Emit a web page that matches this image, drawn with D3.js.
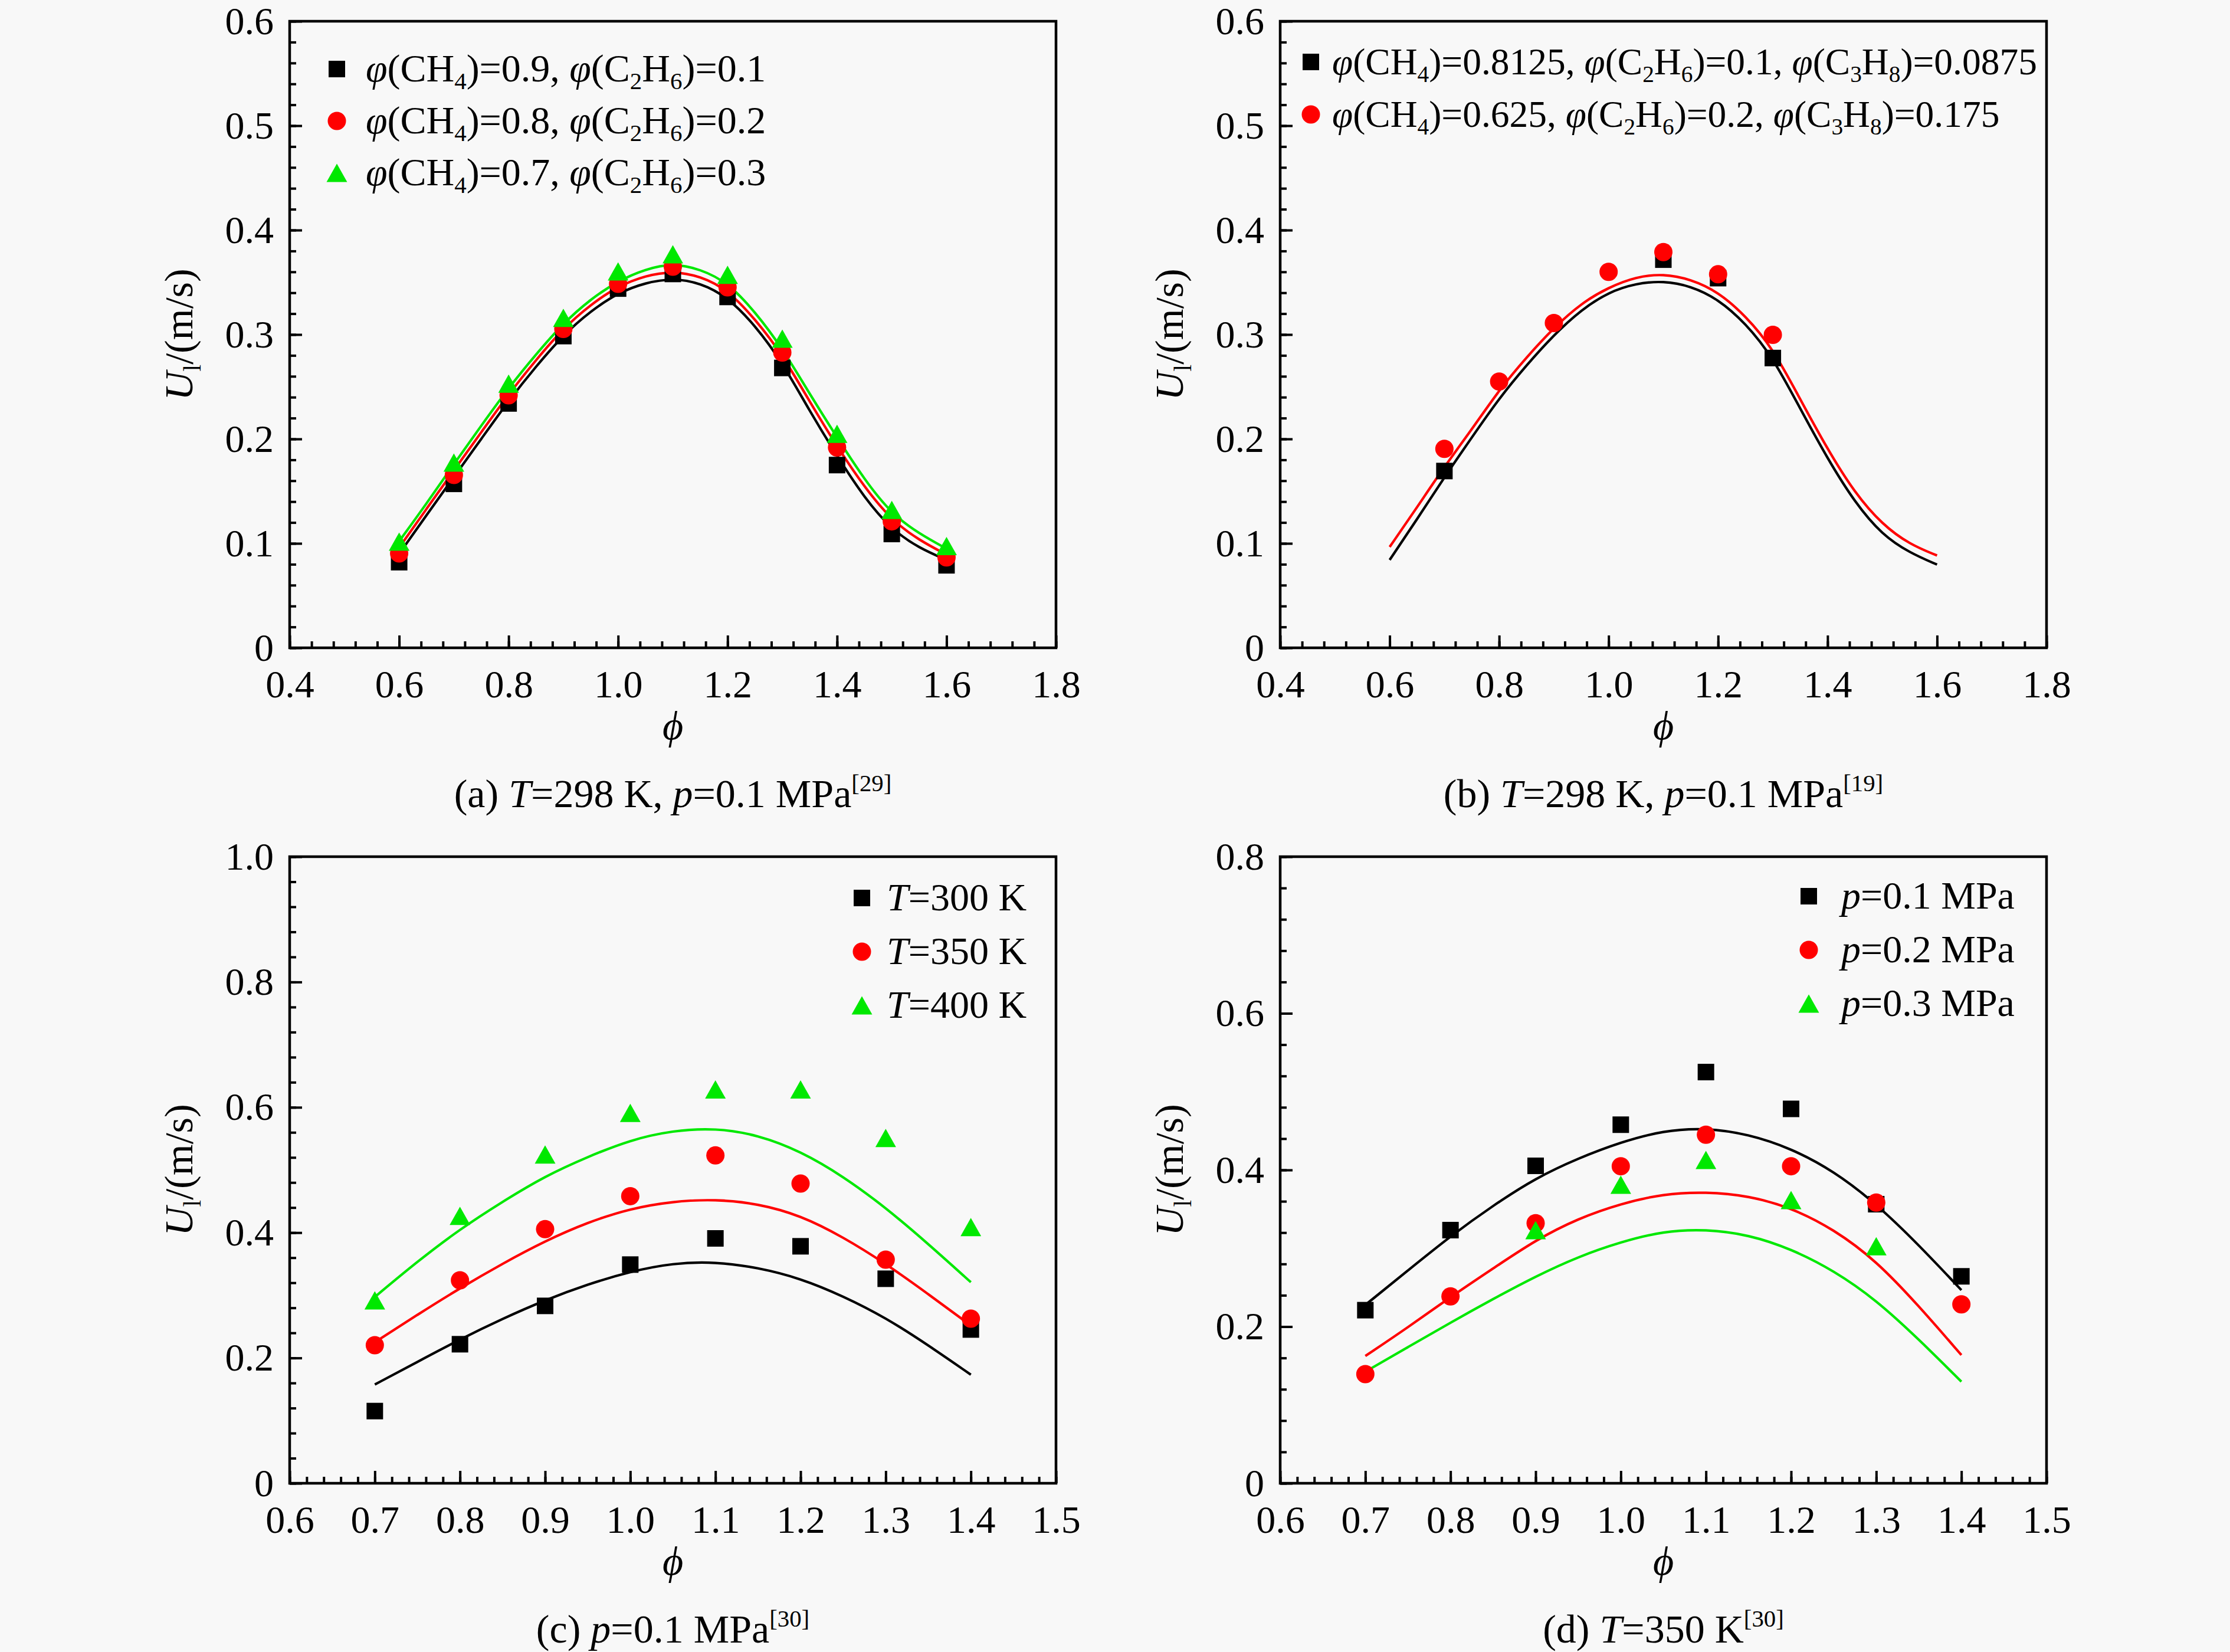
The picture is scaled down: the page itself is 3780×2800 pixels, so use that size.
<!DOCTYPE html>
<html>
<head>
<meta charset="utf-8">
<script src="https://cdn.jsdelivr.net/npm/d3@7"></script>
<style>
  html, body { margin: 0; padding: 0; background: #f8f8f8; }
  svg { display: block; }
  text { white-space: pre; }
</style>
</head>
<body>
<script>
// ---------------- DATA ----------------
// Panel (a): T=298 K, p=0.1 MPa
const aPhi = [0.6, 0.7, 0.8, 0.9, 1.0, 1.1, 1.2, 1.3, 1.4, 1.5, 1.6];
const aBlack = [0.082, 0.157, 0.234, 0.2985, 0.344, 0.358, 0.336, 0.268, 0.175, 0.109, 0.079];
const aRed   = [0.0904, 0.1655, 0.2418, 0.3053, 0.3486, 0.365, 0.3452, 0.2828, 0.1918, 0.1211, 0.0866];
const aGreen = [0.1017, 0.1774, 0.253, 0.316, 0.3605, 0.3768, 0.3572, 0.296, 0.205, 0.132, 0.0975];
const abFitPhi = [0.6, 0.65, 0.7, 0.75, 0.8, 0.85, 0.9, 0.95, 1.0, 1.05, 1.1, 1.15, 1.2, 1.25, 1.3, 1.35, 1.4, 1.45, 1.5, 1.55, 1.6];
const aBlackFit = [0.09, 0.127, 0.1636, 0.2, 0.2367, 0.2695, 0.2997, 0.3226, 0.340, 0.3497, 0.354, 0.3495, 0.336, 0.309, 0.2735, 0.2266, 0.1836, 0.1435, 0.113, 0.0955, 0.0842];
const aRedFit   = [0.096, 0.133, 0.170, 0.2064, 0.243, 0.2757, 0.306, 0.3288, 0.3463, 0.3565, 0.3608, 0.356, 0.343, 0.315, 0.281, 0.2356, 0.1927, 0.1537, 0.122, 0.103, 0.0893];
const aGreenFit = [0.102, 0.138, 0.176, 0.2127, 0.249, 0.281, 0.311, 0.334, 0.3514, 0.3627, 0.3683, 0.3627, 0.350, 0.322, 0.287, 0.243, 0.2014, 0.161, 0.128, 0.1093, 0.0949];
const aLegend = ["*φ*(CH_4_)=0.9, *φ*(C_2_H_6_)=0.1", "*φ*(CH_4_)=0.8, *φ*(C_2_H_6_)=0.2", "*φ*(CH_4_)=0.7, *φ*(C_2_H_6_)=0.3"];
const aCaption = "(a) *T*=298 K, *p*=0.1 MPa^[29]^";

// Panel (b): T=298 K, p=0.1 MPa
const bBlackPhi = [0.7, 1.1, 1.2, 1.3];
const bBlack = [0.1693, 0.3717, 0.354, 0.2775];
const bRedPhi = [0.7, 0.8, 0.9, 1.0, 1.1, 1.2, 1.3];
const bRed = [0.1905, 0.255, 0.311, 0.360, 0.379, 0.3577, 0.2997];
const bBlackFit = [0.0842, 0.123, 0.1635, 0.2014, 0.239, 0.2707, 0.2997, 0.3237, 0.3407, 0.349, 0.3514, 0.3465, 0.334, 0.311, 0.2783, 0.229, 0.181, 0.139, 0.108, 0.091, 0.0797];
const bRedFit   = [0.0966, 0.1345, 0.1736, 0.209, 0.247, 0.2783, 0.3066, 0.33, 0.3452, 0.3553, 0.3582, 0.353, 0.341, 0.318, 0.287, 0.238, 0.190, 0.148, 0.118, 0.099, 0.0884];
const bLegend = ["*φ*(CH_4_)=0.8125, *φ*(C_2_H_6_)=0.1, *φ*(C_3_H_8_)=0.0875", "*φ*(CH_4_)=0.625, *φ*(C_2_H_6_)=0.2, *φ*(C_3_H_8_)=0.175"];
const bCaption = "(b) *T*=298 K, *p*=0.1 MPa^[19]^";

// Panel (c): p=0.1 MPa
const cdPhi = [0.7, 0.8, 0.9, 1.0, 1.1, 1.2, 1.3, 1.4];
const cBlack = [0.1152, 0.2219, 0.2831, 0.349, 0.3908, 0.3782, 0.3264, 0.2454];
const cRed   = [0.2203, 0.3239, 0.4055, 0.4582, 0.5232, 0.4783, 0.3569, 0.2627];
const cGreen = [0.2919, 0.4268, 0.5248, 0.591, 0.6286, 0.6286, 0.551, 0.409];
const cdFitPhi = [0.7, 0.75, 0.8, 0.85, 0.9, 0.95, 1.0, 1.05, 1.1, 1.15, 1.2, 1.25, 1.3, 1.35, 1.4];
const cBlackFit = [0.1576, 0.1937, 0.2298, 0.2627, 0.2925, 0.3176, 0.338, 0.3515, 0.3535, 0.3443, 0.327, 0.2988, 0.2643, 0.2203, 0.1733];
const cRedFit   = [0.225, 0.269, 0.3114, 0.3506, 0.3867, 0.4165, 0.4385, 0.45, 0.4533, 0.4463, 0.4275, 0.393, 0.3506, 0.302, 0.2517];
const cGreenFit = [0.2973, 0.354, 0.4056, 0.4495, 0.4903, 0.521, 0.548, 0.563, 0.567, 0.556, 0.530, 0.490, 0.440, 0.382, 0.3208];
const cLegend = ["*T*=300 K", "*T*=350 K", "*T*=400 K"];
const cCaption = "(c) *p*=0.1 MPa^[30]^";

// Panel (d): T=350 K
const dBlack = [0.221, 0.3232, 0.4053, 0.4578, 0.525, 0.478, 0.3563, 0.2642];
const dRed   = [0.1394, 0.2386, 0.332, 0.4048, 0.445, 0.4048, 0.3583, 0.2285];
const dGreenPhi = [0.9, 1.0, 1.1, 1.2, 1.3];
const dGreen = [0.3232, 0.3812, 0.4128, 0.3616, 0.3026];
const dBlackFit = [0.2277, 0.2717, 0.3156, 0.3546, 0.3897, 0.415, 0.4356, 0.4504, 0.4538, 0.4457, 0.4276, 0.3987, 0.357, 0.3043, 0.2466];
const dRedFit   = [0.1625, 0.1989, 0.2379, 0.2742, 0.3106, 0.3382, 0.357, 0.3696, 0.3721, 0.3671, 0.352, 0.3244, 0.2842, 0.2265, 0.1637];
const dGreenFit = [0.1424, 0.1738, 0.2051, 0.2353, 0.2642, 0.2893, 0.3081, 0.3219, 0.3244, 0.3174, 0.2993, 0.2717, 0.234, 0.1838, 0.1298];
const dLegend = ["*p*=0.1 MPa", "*p*=0.2 MPa", "*p*=0.3 MPa"];
const dCaption = "(d) *T*=350 K^[30]^";

// Axis ticks
const abXTicks = [0.4, 0.6, 0.8, 1.0, 1.2, 1.4, 1.6, 1.8];
const abYTicks = [0, 0.1, 0.2, 0.3, 0.4, 0.5, 0.6];
const cdXTicks = [0.6, 0.7, 0.8, 0.9, 1.0, 1.1, 1.2, 1.3, 1.4, 1.5];
const cYTicks = [0, 0.2, 0.4, 0.6, 0.8, 1.0];
const dYTicks = [0, 0.2, 0.4, 0.6, 0.8];
const yTitle = "*U*_l_/(m/s)";
const xTitle = "*ϕ*";

// ---------------- STYLE ----------------
const FONT = "'Liberation Serif','Times New Roman',Times,serif";
const BLACK = "#000000", RED = "#ff0000", GREEN = "#00e800";
const TICK_FS = 66, CAP_FS = 68, TITLE_FS = 68;

const W = 3780, H = 2800;
const svg = d3.select("body").append("svg").attr("width", W).attr("height", H)
  .attr("font-family", FONT);
svg.append("rect").attr("width", W).attr("height", H).attr("fill", "#f8f8f8");

function rich(textSel, markup, fs) {
  const parts = markup.split(/(\*[^*]+\*|_[^_]+_|\^[^^]+\^)/).filter(s => s.length);
  let shift = 0;
  parts.forEach(p => {
    let t = p, style = "normal", size = fs, off = 0;
    if (p[0] === "*") { t = p.slice(1, -1); style = "italic"; }
    else if (p[0] === "_") { t = p.slice(1, -1); size = fs * 0.62; off = fs * 0.2; }
    else if (p[0] === "^") { t = p.slice(1, -1); size = fs * 0.6; off = -fs * 0.4; }
    const ts = textSel.append("tspan").text(t).attr("font-style", style).attr("font-size", size);
    const dy = off - shift;
    if (dy !== 0) ts.attr("dy", dy);
    shift = off;
  });
}

function rangeTicks(start, end, step) {
  const n = Math.round((end - start) / step);
  return d3.range(n + 1).map(i => +(start + i * step).toFixed(4));
}

function markerPath(kind) {
  if (kind === "square") return d3.symbol(d3.symbolSquare, 28 * 28)();
  if (kind === "circle") return d3.symbol(d3.symbolCircle, Math.PI * 15.5 * 15.5)();
  const w = 35, h = 31;
  return `M0,${-h / 2}L${w / 2},${h / 2}L${-w / 2},${h / 2}Z`;
}

const fmt = d => d === 0 ? "0" : d.toFixed(1);

function drawPanel(cfg) {
  const g = svg.append("g");
  const x = d3.scaleLinear().domain(cfg.xDomain).range([cfg.left, cfg.right]);
  const y = d3.scaleLinear().domain(cfg.yDomain).range([cfg.bottom, cfg.top]);

  const styleAxis = sel => {
    sel.select(".domain").remove();
    sel.selectAll("line").attr("stroke", BLACK).attr("stroke-width", 4);
    sel.attr("font-family", FONT).attr("font-size", TICK_FS);
    sel.selectAll("text").attr("fill", BLACK);
  };

  g.append("g").attr("transform", `translate(0,${cfg.bottom})`)
    .call(d3.axisBottom(x).tickValues(cfg.xMinor).tickSize(-11).tickFormat(""))
    .call(styleAxis);
  g.append("g").attr("transform", `translate(${cfg.left},0)`)
    .call(d3.axisLeft(y).tickValues(cfg.yMinor).tickSize(-11).tickFormat(""))
    .call(styleAxis);
  g.append("g").attr("transform", `translate(0,${cfg.bottom})`)
    .call(d3.axisBottom(x).tickValues(cfg.xTicks).tickSize(-21).tickPadding(37).tickFormat(d => d.toFixed(1)))
    .call(styleAxis);
  g.append("g").attr("transform", `translate(${cfg.left},0)`)
    .call(d3.axisLeft(y).tickValues(cfg.yTicks).tickSize(-21).tickPadding(27).tickFormat(fmt))
    .call(styleAxis);

  g.append("rect").attr("x", cfg.left).attr("y", cfg.top)
    .attr("width", cfg.right - cfg.left).attr("height", cfg.bottom - cfg.top)
    .attr("fill", "none").attr("stroke", BLACK).attr("stroke-width", 4.5);

  const line = d3.line().x(d => x(d[0])).y(d => y(d[1])).curve(d3.curveBasis);
  cfg.series.forEach(s => {
    g.append("path").datum(d3.zip(s.fitPhi, s.fit))
      .attr("d", line).attr("fill", "none").attr("stroke", s.color).attr("stroke-width", 4.2);
  });
  cfg.series.forEach(s => {
    g.append("g").selectAll("path").data(d3.zip(s.phi, s.vals)).join("path")
      .attr("d", markerPath(s.marker))
      .attr("transform", d => `translate(${x(d[0])},${y(d[1])})`)
      .attr("fill", s.color);
  });

  cfg.series.forEach((s, i) => {
    const cy = cfg.legY + i * cfg.legDy;
    g.append("path").attr("d", markerPath(s.marker))
      .attr("transform", `translate(${cfg.legMx},${cy})`).attr("fill", s.color);
    const t = g.append("text").attr("x", cfg.legTx).attr("y", cy + 21)
      .attr("font-size", cfg.legFs).attr("fill", BLACK);
    rich(t, s.label, cfg.legFs);
  });

  const yt = g.append("text").attr("transform", `translate(${cfg.yTitleX},${(cfg.top + cfg.bottom) / 2}) rotate(-90)`)
    .attr("text-anchor", "middle").attr("font-size", TITLE_FS).attr("fill", BLACK);
  rich(yt, yTitle, TITLE_FS);
  const xt = g.append("text").attr("x", (cfg.left + cfg.right) / 2).attr("y", cfg.bottom + 155)
    .attr("text-anchor", "middle").attr("font-size", TITLE_FS).attr("fill", BLACK);
  rich(xt, xTitle, TITLE_FS);

  const ct = g.append("text").attr("x", (cfg.left + cfg.right) / 2).attr("y", cfg.bottom + 270)
    .attr("text-anchor", "middle").attr("font-size", CAP_FS).attr("fill", BLACK);
  rich(ct, cfg.caption, CAP_FS);
}

const rowTop = [36, 1452], rowBottom = [1098, 2514];
const colLeft = [491, 2170], colRight = [1790, 3469];

drawPanel({
  left: colLeft[0], right: colRight[0], top: rowTop[0], bottom: rowBottom[0],
  xDomain: [0.4, 1.8], yDomain: [0, 0.6],
  xTicks: abXTicks, yTicks: abYTicks,
  xMinor: rangeTicks(0.4, 1.8, 0.04), yMinor: rangeTicks(0, 0.6, 0.02),
  series: [
    { phi: aPhi, vals: aBlack, fitPhi: abFitPhi, fit: aBlackFit, color: BLACK, marker: "square", label: aLegend[0] },
    { phi: aPhi, vals: aRed, fitPhi: abFitPhi, fit: aRedFit, color: RED, marker: "circle", label: aLegend[1] },
    { phi: aPhi, vals: aGreen, fitPhi: abFitPhi, fit: aGreenFit, color: GREEN, marker: "triangle", label: aLegend[2] }
  ],
  legMx: 571, legTx: 620, legY: 117, legDy: 88, legFs: 66,
  yTitleX: 326, caption: aCaption
});

drawPanel({
  left: colLeft[1], right: colRight[1], top: rowTop[0], bottom: rowBottom[0],
  xDomain: [0.4, 1.8], yDomain: [0, 0.6],
  xTicks: abXTicks, yTicks: abYTicks,
  xMinor: rangeTicks(0.4, 1.8, 0.04), yMinor: rangeTicks(0, 0.6, 0.02),
  series: [
    { phi: bBlackPhi, vals: bBlack, fitPhi: abFitPhi, fit: bBlackFit, color: BLACK, marker: "square", label: bLegend[0] },
    { phi: bRedPhi, vals: bRed, fitPhi: abFitPhi, fit: bRedFit, color: RED, marker: "circle", label: bLegend[1] }
  ],
  legMx: 2222, legTx: 2258, legY: 105, legDy: 89, legFs: 63.5,
  yTitleX: 2005, caption: bCaption
});

drawPanel({
  left: colLeft[0], right: colRight[0], top: rowTop[1], bottom: rowBottom[1],
  xDomain: [0.6, 1.5], yDomain: [0, 1.0],
  xTicks: cdXTicks, yTicks: cYTicks,
  xMinor: rangeTicks(0.6, 1.5, 0.02), yMinor: rangeTicks(0, 1.0, 0.04),
  series: [
    { phi: cdPhi, vals: cBlack, fitPhi: cdFitPhi, fit: cBlackFit, color: BLACK, marker: "square", label: cLegend[0] },
    { phi: cdPhi, vals: cRed, fitPhi: cdFitPhi, fit: cRedFit, color: RED, marker: "circle", label: cLegend[1] },
    { phi: cdPhi, vals: cGreen, fitPhi: cdFitPhi, fit: cGreenFit, color: GREEN, marker: "triangle", label: cLegend[2] }
  ],
  legMx: 1461, legTx: 1503, legY: 1522, legDy: 91, legFs: 66,
  yTitleX: 326, caption: cCaption
});

drawPanel({
  left: colLeft[1], right: colRight[1], top: rowTop[1], bottom: rowBottom[1],
  xDomain: [0.6, 1.5], yDomain: [0, 0.8],
  xTicks: cdXTicks, yTicks: dYTicks,
  xMinor: rangeTicks(0.6, 1.5, 0.02), yMinor: rangeTicks(0, 0.8, 0.04),
  series: [
    { phi: cdPhi, vals: dBlack, fitPhi: cdFitPhi, fit: dBlackFit, color: BLACK, marker: "square", label: dLegend[0] },
    { phi: cdPhi, vals: dRed, fitPhi: cdFitPhi, fit: dRedFit, color: RED, marker: "circle", label: dLegend[1] },
    { phi: dGreenPhi, vals: dGreen, fitPhi: cdFitPhi, fit: dGreenFit, color: GREEN, marker: "triangle", label: dLegend[2] }
  ],
  legMx: 3066, legTx: 3121, legY: 1519, legDy: 91, legFs: 66,
  yTitleX: 2005, caption: dCaption
});
</script>
</body>
</html>
